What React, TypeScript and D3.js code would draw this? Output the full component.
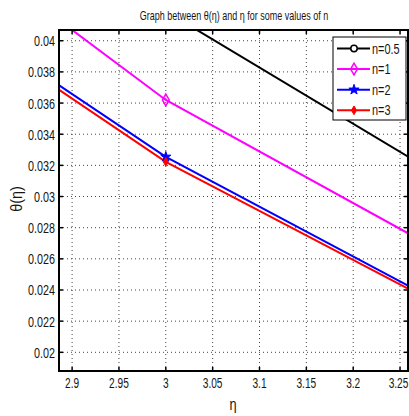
import React from "react";
import * as d3 from "d3";

// η sample points and θ(η) for each value of n
const etaValues = [2.5, 3, 3.5];
const thetaN05 = [0.066, 0.04189, 0.02384];
const thetaN1 = [0.05865, 0.0362, 0.01965];
const thetaN2 = [0.0527, 0.03255, 0.01655];
const thetaN3 = [0.0525, 0.03223, 0.01647];

const seriesLabels = ["n=0.5", "n=1", "n=2", "n=3"];
const xTicks = [2.9, 2.95, 3, 3.05, 3.1, 3.15, 3.2, 3.25];
const yTicks = [0.02, 0.022, 0.024, 0.026, 0.028, 0.03, 0.032, 0.034, 0.036, 0.038, 0.04];

const W = 409;
const H = 416;
const M = { left: 59, right: 408, top: 30, bottom: 371 };
const FONT = "'Liberation Sans', Arial, sans-serif";

type Marker = "circle" | "diamond" | "star" | "dot";

const styles: { color: string; marker: Marker }[] = [
  { color: "#000000", marker: "circle" },
  { color: "#ff00ff", marker: "diamond" },
  { color: "#0000ff", marker: "star" },
  { color: "#ff0000", marker: "dot" },
];

// condensed text: horizontally squeezed glyphs
function NText({
  x,
  y,
  children,
  size,
  sx = 0.74,
  anchor = "start",
  rotate = 0,
}: {
  x: number;
  y: number;
  children: React.ReactNode;
  size: number;
  sx?: number;
  anchor?: "start" | "middle" | "end";
  rotate?: number;
}) {
  return (
    <text
      transform={`translate(${x},${y}) rotate(${rotate}) scale(${sx},1)`}
      textAnchor={anchor}
      fontFamily={FONT}
      fontSize={size}
      fill="#151515"
    >
      {children}
    </text>
  );
}

function MarkerShape({ x, y, kind, color }: { x: number; y: number; kind: Marker; color: string }) {
  if (kind === "circle") {
    return <circle cx={x} cy={y} r={3.2} fill="#fff" stroke={color} strokeWidth={1.5} />;
  }
  if (kind === "diamond") {
    const p = d3.symbol(d3.symbolDiamond, 40)();
    return <path d={p || ""} transform={`translate(${x},${y})`} fill="none" stroke={color} strokeWidth={1.5} />;
  }
  if (kind === "star") {
    const p = d3.symbol(d3.symbolStar, 32)();
    return <path d={p || ""} transform={`translate(${x},${y})`} fill={color} stroke={color} strokeWidth={1} />;
  }
  const p = d3.symbol(d3.symbolDiamond, 22)();
  return <path d={p || ""} transform={`translate(${x},${y})`} fill={color} stroke={color} strokeWidth={1} />;
}

export default function App() {
  const x = d3.scaleLinear().domain([2.886, 3.2585]).range([M.left, M.right]);
  const y = d3.scaleLinear().domain([0.0188, 0.04069]).range([M.bottom, M.top]);

  const series = [thetaN05, thetaN1, thetaN2, thetaN3];
  const line = d3
    .line<number>()
    .x((_, i) => x(etaValues[i]))
    .y((d) => y(d));

  const legendX = 333;
  const legendY = 37;
  const legendW = 73;
  const legendH = 83;
  const rowH = 20.6;

  // keep the last x tick label inside the canvas
  const xLabelPos = (t: number) => Math.min(x(t), W - 10.5);

  return (
    <svg width={W} height={H} style={{ position: "absolute", left: 0, top: 0, background: "#fff" }}>
      <defs>
        <clipPath id="plotArea">
          <rect x={M.left} y={M.top} width={M.right - M.left} height={M.bottom - M.top} />
        </clipPath>
      </defs>
      <rect x={0} y={0} width={W} height={H} fill="#fff" />

      {/* title */}
      <NText x={234} y={20} size={12} sx={0.75} anchor="middle">
        Graph between θ(η) and η for some values of n
      </NText>

      {/* grid */}
      <g stroke="#444" strokeWidth={1} strokeDasharray="1,3">
        {xTicks.map((t) => (
          <line key={"gx" + t} x1={x(t)} x2={x(t)} y1={M.top} y2={M.bottom} />
        ))}
        {yTicks.map((t) => (
          <line key={"gy" + t} x1={M.left} x2={M.right} y1={y(t)} y2={y(t)} />
        ))}
      </g>

      {/* curves */}
      <g clipPath="url(#plotArea)">
        {series.map((s, i) => (
          <path key={"s" + i} d={line(s) || ""} fill="none" stroke={styles[i].color} strokeWidth={2} />
        ))}
        {series.map((s, i) =>
          s.map((v, j) => (
            <MarkerShape key={`m${i}-${j}`} x={x(etaValues[j])} y={y(v)} kind={styles[i].marker} color={styles[i].color} />
          ))
        )}
      </g>

      {/* axes box and ticks */}
      <g stroke="#000" strokeWidth={2}>
        <line x1={M.left} x2={M.left} y1={M.top - 1} y2={M.bottom + 1} />
        <line x1={M.left - 1} x2={M.right + 1} y1={M.bottom} y2={M.bottom} />
        <line x1={M.left - 1} x2={M.right + 1} y1={M.top} y2={M.top} />
        <line x1={M.right} x2={M.right} y1={M.top} y2={M.bottom} />
      </g>
      <g stroke="#000" strokeWidth={1.5}>
        {xTicks.map((t) => (
          <g key={"tx" + t}>
            <line x1={x(t)} x2={x(t)} y1={M.bottom} y2={M.bottom - 4} />
            <line x1={x(t)} x2={x(t)} y1={M.top} y2={M.top + 4} />
          </g>
        ))}
        {yTicks.map((t) => (
          <g key={"ty" + t}>
            <line x1={M.left} x2={M.left + 4} y1={y(t)} y2={y(t)} />
            <line x1={M.right} x2={M.right - 4} y1={y(t)} y2={y(t)} />
          </g>
        ))}
      </g>

      {/* tick labels */}
      {xTicks.map((t) => (
        <NText key={"lx" + t} x={xLabelPos(t)} y={388} size={14.5} sx={0.7} anchor="middle">
          {d3.format("~g")(t)}
        </NText>
      ))}
      {yTicks.map((t) => (
        <NText key={"ly" + t} x={55} y={y(t) + 5.5} size={15} sx={0.72} anchor="end">
          {d3.format("~g")(t)}
        </NText>
      ))}

      {/* axis labels */}
      <NText x={233} y={410} size={16} sx={0.8} anchor="middle">
        η
      </NText>
      <NText x={22} y={199} size={17} sx={0.85} anchor="middle" rotate={-90}>
        θ(η)
      </NText>

      {/* legend */}
      <g>
        <rect x={legendX} y={legendY} width={legendW} height={legendH} fill="#fff" stroke="#000" strokeWidth={1} />
        {seriesLabels.map((lab, i) => {
          const cy = legendY + 11.5 + i * rowH;
          return (
            <g key={"lg" + i}>
              <line x1={legendX + 4} x2={legendX + 37} y1={cy} y2={cy} stroke={styles[i].color} strokeWidth={2} />
              <MarkerShape x={legendX + 21} y={cy} kind={styles[i].marker} color={styles[i].color} />
              <NText x={legendX + 39} y={cy + 5} size={14} sx={0.78}>
                {lab}
              </NText>
            </g>
          );
        })}
      </g>
    </svg>
  );
}
